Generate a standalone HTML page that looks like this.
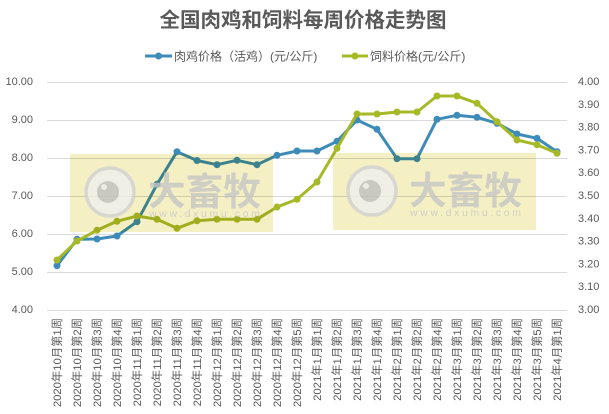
<!DOCTYPE html>
<html><head><meta charset="utf-8"><style>
html,body{margin:0;padding:0;background:#fff;}
svg{display:block;font-family:"Liberation Sans","Noto Sans CJK SC",sans-serif;}
.wm{mix-blend-mode:multiply;}
</style></head><body>
<svg width="609" height="414" viewBox="0 0 609 414" xmlns="http://www.w3.org/2000/svg">
<rect width="609" height="414" fill="#fff"/>
<text x="303" y="27" text-anchor="middle" font-size="20.5" font-weight="bold" fill="#595959">全国肉鸡和饲料每周价格走势图</text>
<g>
<line x1="145" y1="56" x2="172" y2="56" stroke="#3d8bb8" stroke-width="3"/>
<circle cx="158.5" cy="56" r="3.5" fill="#3d8bb8"/>
<text x="174" y="60.5" font-size="12" fill="#595959">肉鸡价格（活鸡）(元/公斤)</text>
<line x1="342" y1="56" x2="368" y2="56" stroke="#a6b927" stroke-width="3"/>
<circle cx="355" cy="56" r="3.5" fill="#a6b927"/>
<text x="370" y="60.5" font-size="12" fill="#595959">饲料价格(元/公斤)</text>
</g>
<g stroke="#d9d9d9" stroke-width="1">
<line x1="47" y1="82.5" x2="567" y2="82.5"/>
<line x1="47" y1="120.5" x2="567" y2="120.5"/>
<line x1="47" y1="158.5" x2="567" y2="158.5"/>
<line x1="47" y1="196.5" x2="567" y2="196.5"/>
<line x1="47" y1="234.5" x2="567" y2="234.5"/>
<line x1="47" y1="272.5" x2="567" y2="272.5"/>
<line x1="47" y1="310.5" x2="567" y2="310.5"/>
</g>
<g font-size="11" fill="#595959" text-anchor="end" dominant-baseline="central">
<text x="33" y="82">10.00</text><text x="33" y="120">9.00</text><text x="33" y="158">8.00</text><text x="33" y="196">7.00</text><text x="33" y="234">6.00</text><text x="33" y="272">5.00</text><text x="33" y="310">4.00</text>
</g>
<g font-size="11" fill="#595959" dominant-baseline="central">
<text x="578" y="82">4.00</text><text x="578" y="104.8">3.90</text><text x="578" y="127.6">3.80</text><text x="578" y="150.4">3.70</text><text x="578" y="173.2">3.60</text><text x="578" y="196">3.50</text><text x="578" y="218.8">3.40</text><text x="578" y="241.6">3.30</text><text x="578" y="264.4">3.20</text><text x="578" y="287.2">3.10</text><text x="578" y="310">3.00</text>
</g>
<g font-size="11.3" fill="#595959" text-anchor="end" dominant-baseline="central">
<text transform="translate(58,318) rotate(-90)">2020年10月第1周</text>
<text transform="translate(78,318) rotate(-90)">2020年10月第2周</text>
<text transform="translate(98,318) rotate(-90)">2020年10月第3周</text>
<text transform="translate(118,318) rotate(-90)">2020年10月第4周</text>
<text transform="translate(138,318) rotate(-90)">2020年11月第1周</text>
<text transform="translate(158,318) rotate(-90)">2020年11月第2周</text>
<text transform="translate(178,318) rotate(-90)">2020年11月第3周</text>
<text transform="translate(198,318) rotate(-90)">2020年11月第4周</text>
<text transform="translate(218,318) rotate(-90)">2020年12月第1周</text>
<text transform="translate(238,318) rotate(-90)">2020年12月第2周</text>
<text transform="translate(258,318) rotate(-90)">2020年12月第3周</text>
<text transform="translate(278,318) rotate(-90)">2020年12月第4周</text>
<text transform="translate(298,318) rotate(-90)">2020年12月第5周</text>
<text transform="translate(318,318) rotate(-90)">2021年1月第1周</text>
<text transform="translate(338,318) rotate(-90)">2021年1月第2周</text>
<text transform="translate(358,318) rotate(-90)">2021年1月第3周</text>
<text transform="translate(378,318) rotate(-90)">2021年1月第4周</text>
<text transform="translate(398,318) rotate(-90)">2021年2月第1周</text>
<text transform="translate(418,318) rotate(-90)">2021年2月第2周</text>
<text transform="translate(438,318) rotate(-90)">2021年2月第4周</text>
<text transform="translate(458,318) rotate(-90)">2021年3月第1周</text>
<text transform="translate(478,318) rotate(-90)">2021年3月第2周</text>
<text transform="translate(498,318) rotate(-90)">2021年3月第3周</text>
<text transform="translate(518,318) rotate(-90)">2021年3月第4周</text>
<text transform="translate(538,318) rotate(-90)">2021年3月第5周</text>
<text transform="translate(558,318) rotate(-90)">2021年4月第1周</text>
</g>
<!-- blue series -->
<polyline fill="none" stroke="#3d8bb8" stroke-width="3" stroke-linejoin="round" points="57,265.7 77,239.3 97,239 117,236 137,221.7 157,184.3 177,151.7 197,160.5 217,164.7 237,160.3 257,164.7 277,155.3 297,151 317,151 337,141.3 357,120 377,129.3 397,158.7 417,158.7 437,119.3 457,115.3 477,117.3 497,123.3 517,134 537,138.3 557,151.7"/>
<g fill="#3d8bb8">
<circle cx="57" cy="265.7" r="3.5"/><circle cx="77" cy="239.3" r="3.5"/><circle cx="97" cy="239" r="3.5"/><circle cx="117" cy="236" r="3.5"/><circle cx="137" cy="221.7" r="3.5"/><circle cx="157" cy="184.3" r="3.5"/><circle cx="177" cy="151.7" r="3.5"/><circle cx="197" cy="160.5" r="3.5"/><circle cx="217" cy="164.7" r="3.5"/><circle cx="237" cy="160.3" r="3.5"/><circle cx="257" cy="164.7" r="3.5"/><circle cx="277" cy="155.3" r="3.5"/><circle cx="297" cy="151" r="3.5"/><circle cx="317" cy="151" r="3.5"/><circle cx="337" cy="141.3" r="3.5"/><circle cx="357" cy="120" r="3.5"/><circle cx="377" cy="129.3" r="3.5"/><circle cx="397" cy="158.7" r="3.5"/><circle cx="417" cy="158.7" r="3.5"/><circle cx="437" cy="119.3" r="3.5"/><circle cx="457" cy="115.3" r="3.5"/><circle cx="477" cy="117.3" r="3.5"/><circle cx="497" cy="123.3" r="3.5"/><circle cx="517" cy="134" r="3.5"/><circle cx="537" cy="138.3" r="3.5"/><circle cx="557" cy="151.7" r="3.5"/>
</g>
<!-- green series -->
<polyline fill="none" stroke="#a6b927" stroke-width="3" stroke-linejoin="round" points="57,260 77,241 97,230.3 117,221.3 137,216 157,219.3 177,228.3 197,220.7 217,219.3 237,219.3 257,219.3 277,207 297,199.3 317,182 337,148.3 357,114 377,114 397,112 417,112 437,96 457,96 477,103.3 497,121.7 517,140 537,144.7 557,153.3"/>
<g fill="#a6b927">
<circle cx="57" cy="260" r="3.5"/><circle cx="77" cy="241" r="3.5"/><circle cx="97" cy="230.3" r="3.5"/><circle cx="117" cy="221.3" r="3.5"/><circle cx="137" cy="216" r="3.5"/><circle cx="157" cy="219.3" r="3.5"/><circle cx="177" cy="228.3" r="3.5"/><circle cx="197" cy="220.7" r="3.5"/><circle cx="217" cy="219.3" r="3.5"/><circle cx="237" cy="219.3" r="3.5"/><circle cx="257" cy="219.3" r="3.5"/><circle cx="277" cy="207" r="3.5"/><circle cx="297" cy="199.3" r="3.5"/><circle cx="317" cy="182" r="3.5"/><circle cx="337" cy="148.3" r="3.5"/><circle cx="357" cy="114" r="3.5"/><circle cx="377" cy="114" r="3.5"/><circle cx="397" cy="112" r="3.5"/><circle cx="417" cy="112" r="3.5"/><circle cx="437" cy="96" r="3.5"/><circle cx="457" cy="96" r="3.5"/><circle cx="477" cy="103.3" r="3.5"/><circle cx="497" cy="121.7" r="3.5"/><circle cx="517" cy="140" r="3.5"/><circle cx="537" cy="144.7" r="3.5"/><circle cx="557" cy="153.3" r="3.5"/>
</g>
<!-- watermark 1 -->
<rect class="wm" x="70" y="154" width="203" height="78" fill="#f5efc4"/>
<g opacity="0.8">
<circle cx="110" cy="192" r="24" fill="#efefef" stroke="#d2d2d2" stroke-width="3.5"/>
<circle cx="108" cy="192" r="11" fill="#c0c0c0"/>
<circle cx="104" cy="187" r="3" fill="#ececec"/>
<text x="148" y="205" font-size="38" font-weight="bold" fill="#c6c6c6" textLength="113" lengthAdjust="spacingAndGlyphs">大畜牧</text>
<text x="149" y="217" font-size="10.5" fill="#c8c8c8" textLength="111" lengthAdjust="spacing">www.dxumu.com</text>
</g>
<!-- watermark 2 -->
<rect class="wm" x="333" y="153" width="203" height="77" fill="#f5efc4"/>
<g opacity="0.8">
<circle cx="372" cy="191" r="24" fill="#efefef" stroke="#d2d2d2" stroke-width="3.5"/>
<circle cx="370" cy="191" r="11" fill="#c0c0c0"/>
<circle cx="366" cy="186" r="3" fill="#ececec"/>
<text x="409" y="204" font-size="38" font-weight="bold" fill="#c6c6c6" textLength="113" lengthAdjust="spacingAndGlyphs">大畜牧</text>
<text x="410" y="216" font-size="10.5" fill="#c8c8c8" textLength="111" lengthAdjust="spacing">www.dxumu.com</text>
</g>
</svg>
</body></html>
